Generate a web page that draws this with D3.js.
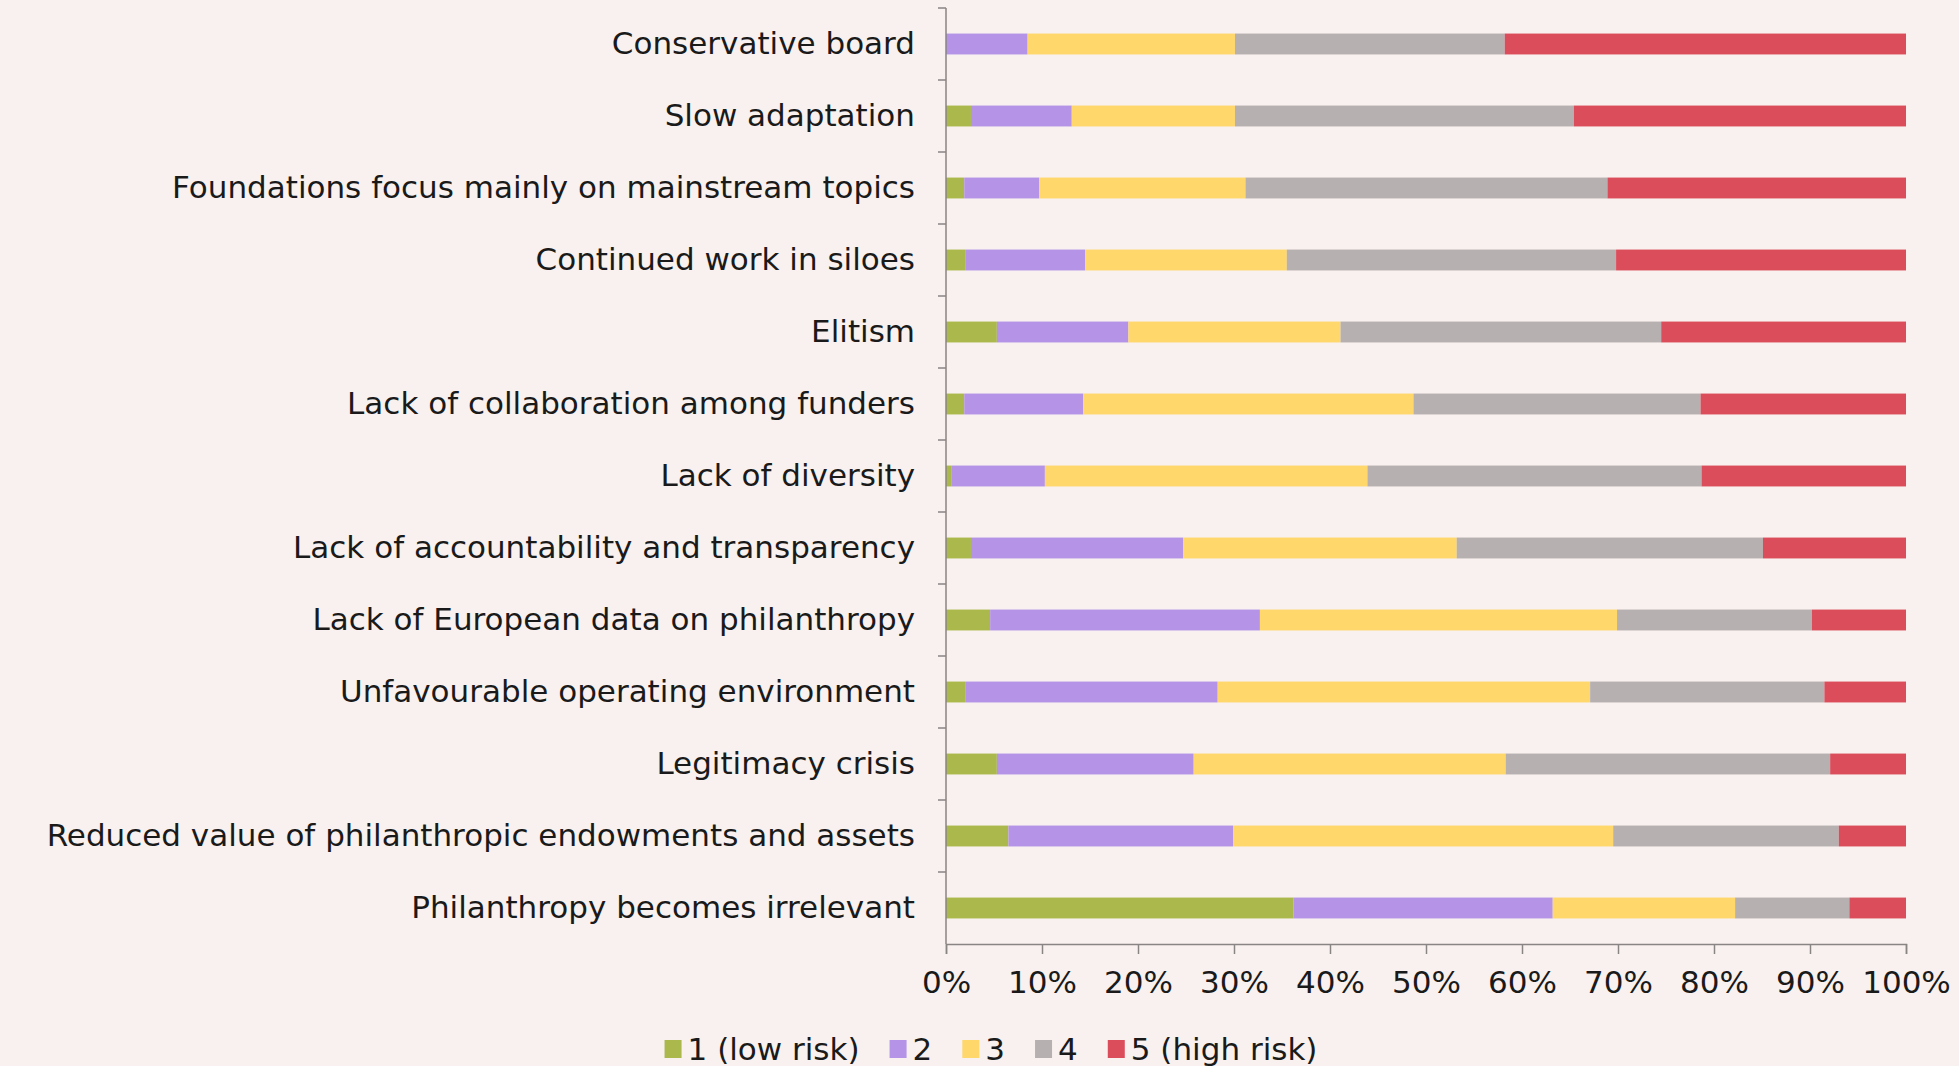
<!DOCTYPE html>
<html><head><meta charset="utf-8">
<script src="https://cdn.jsdelivr.net/npm/d3@7"></script>
<style>
html,body{margin:0;padding:0;background:#f8f1ef;}
svg{display:block;}
text{font-family:"DejaVu Sans","Noto Sans",sans-serif;fill:#1a1a1a;}
</style></head>
<body>
<svg id="chart" width="1959" height="1066"></svg>
<script>
const categories = [
  "Conservative board",
  "Slow adaptation",
  "Foundations focus mainly on mainstream topics",
  "Continued work in siloes",
  "Elitism",
  "Lack of collaboration among funders",
  "Lack of diversity",
  "Lack of accountability and transparency",
  "Lack of European data on philanthropy",
  "Unfavourable operating environment",
  "Legitimacy crisis",
  "Reduced value of philanthropic endowments and assets",
  "Philanthropy becomes irrelevant"
];
const seriesNames = ["1 (low risk)", "2", "3", "4", "5 (high risk)"];
const risk1 = [0.0, 2.6, 1.9, 2.0, 5.3, 1.9, 0.6, 2.6, 4.6, 2.0, 5.3, 6.5, 36.2];
const risk2 = [8.5, 10.5, 7.8, 12.5, 13.7, 12.4, 9.7, 22.1, 28.1, 26.3, 20.5, 23.4, 27.0];
const risk3 = [21.6, 17.0, 21.5, 21.0, 22.1, 34.4, 33.6, 28.5, 37.2, 38.8, 32.5, 39.6, 19.0];
const risk4 = [28.1, 35.3, 37.7, 34.3, 33.4, 29.9, 34.8, 31.9, 20.3, 24.4, 33.8, 23.5, 11.9];
const risk5 = [41.8, 34.6, 31.1, 30.2, 25.5, 21.4, 21.3, 14.9, 9.8, 8.5, 7.9, 7.0, 5.9];
const xTicks = [0, 10, 20, 30, 40, 50, 60, 70, 80, 90, 100];
const colors = ["#abb94c", "#b594e8", "#ffd76a", "#b6b0b0", "#dc4d5c"];

(function () {
const seriesValues = [risk1, risk2, risk3, risk4, risk5];
const rows = categories.map((c, i) => {
  const r = {category: c};
  seriesNames.forEach((s, j) => r[s] = seriesValues[j][i]);
  return r;
});
const stacked = d3.stack().keys(seriesNames)(rows);

const svg = d3.select("#chart");
const mLeft = 946, mRight = 1906, mTop = 8, mBottom = 944;
const x = d3.scaleLinear().domain([0, 100]).range([mLeft, mRight]);
const y = d3.scaleBand().domain(categories).range([mTop, mBottom]).paddingInner(0.71).paddingOuter(0.355);
const yTicks = d3.scaleBand().domain(categories).range([mTop, mBottom]);

const probe = svg.append("text").style("font-size", "30px").text(categories[11]);
const w = probe.node().getComputedTextLength();
probe.remove();
const fs = Math.min(31, 30 * 902 / w);

svg.append("g").selectAll("g").data(stacked).join("g")
  .attr("fill", (d, i) => colors[i])
  .selectAll("rect").data(d => d).join("rect")
  .attr("x", d => x(d[0]))
  .attr("width", d => Math.max(0, x(d[1]) - x(d[0])))
  .attr("y", d => y(d.data.category))
  .attr("height", y.bandwidth());

const yg = svg.append("g");
yg.append("line").attr("x1", mLeft).attr("x2", mLeft).attr("y1", mTop).attr("y2", mBottom)
  .attr("stroke", "#8a8585").attr("stroke-width", 1.5);
categories.forEach((c) => {
  const yy = yTicks(c);
  yg.append("line").attr("x1", mLeft - 8).attr("x2", mLeft).attr("y1", yy).attr("y2", yy)
    .attr("stroke", "#8a8585").attr("stroke-width", 1.5);
});
yg.selectAll("text.ylab").data(categories).join("text").attr("class", "ylab")
  .attr("x", 915)
  .attr("y", d => yTicks(d) + yTicks.bandwidth() / 2)
  .attr("dy", "0.33em")
  .attr("text-anchor", "end")
  .style("font-size", fs + "px")
  .text(d => d);

const xAxis = d3.axisBottom(x).tickValues(xTicks).tickFormat(d => d + "%").tickSize(10).tickPadding(17);
const xg = svg.append("g").attr("transform", `translate(0,${mBottom})`).call(xAxis);
xg.select(".domain").attr("stroke", "#8a8585").attr("stroke-width", 1.5);
xg.selectAll(".tick line").attr("stroke", "#8a8585").attr("stroke-width", 1.5);
xg.selectAll(".tick text").style("font-size", fs + "px").attr("fill", "#1a1a1a")
  .style("font-family", "'DejaVu Sans','Noto Sans',sans-serif");

// legend laid out sequentially, centred like the reference
const lg = svg.append("g");
const items = seriesNames.map((s, i) => {
  const g = lg.append("g");
  g.append("rect").attr("x", 0).attr("y", 1040).attr("width", 17).attr("height", 18).attr("fill", colors[i]);
  const t = g.append("text").attr("x", 23).attr("y", 1049).attr("dy", "0.34em")
    .style("font-size", fs + "px").text(s);
  return {g, w: 23 + t.node().getComputedTextLength()};
});
const gap = 30;
const total = d3.sum(items, d => d.w) + gap * (items.length - 1);
let cx = 991 - total / 2;
items.forEach(it => { it.g.attr("transform", `translate(${cx},0)`); cx += it.w + gap; });
})();
</script>
</body></html>
